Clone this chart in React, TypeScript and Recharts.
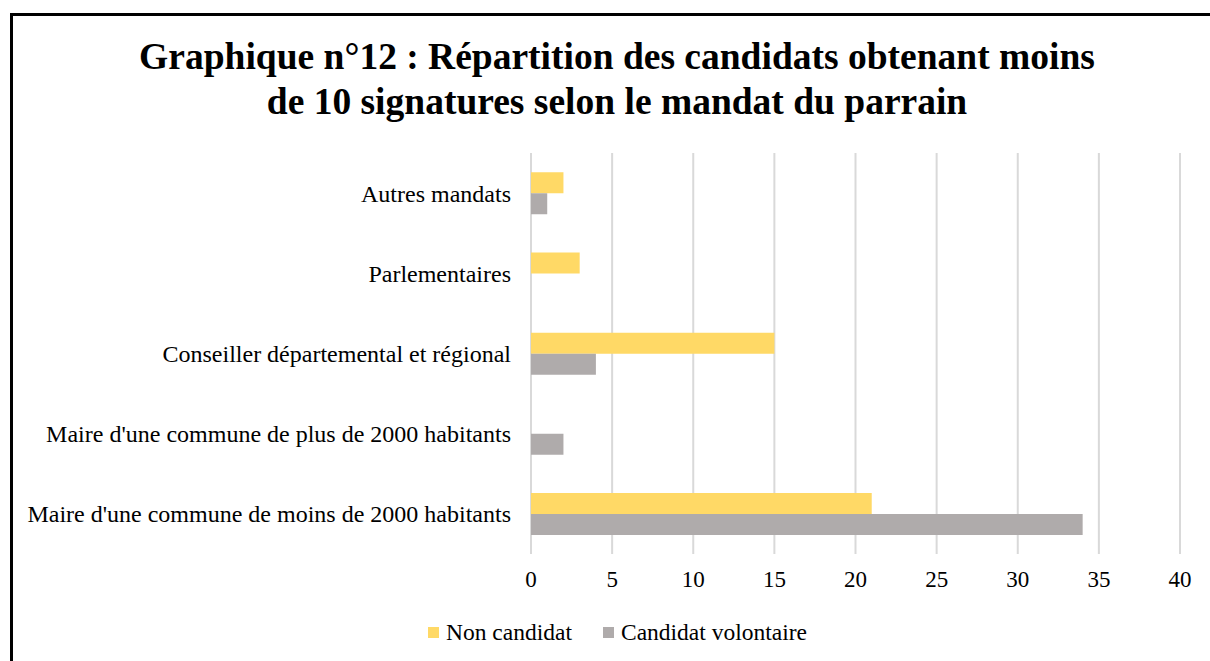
import { BarChart, Bar, XAxis, YAxis, CartesianGrid } from "recharts";

const categories = [
  "Autres mandats",
  "Parlementaires",
  "Conseiller départemental et régional",
  "Maire d'une commune de plus de 2000 habitants",
  "Maire d'une commune de moins de 2000 habitants",
];
const nonCandidat = [2, 3, 15, 0, 21];
const candidatVolontaire = [1, 0, 4, 2, 34];
const xTicks = [0, 5, 10, 15, 20, 25, 30, 35, 40];

const FONT = "'Liberation Serif', 'Times New Roman', serif";
const YELLOW = "#FFD966";
const GREY = "#AFABAB";

const series = [
  { key: "nonCandidat", name: "Non candidat", color: YELLOW },
  { key: "candidatVolontaire", name: "Candidat volontaire", color: GREY },
];

const data = categories.map((name, i) => ({
  name,
  nonCandidat: nonCandidat[i],
  candidatVolontaire: candidatVolontaire[i],
}));

export default function App() {
  return (
    <div style={{ position: "absolute", left: 0, top: 0, width: 1210, height: 661, background: "#fff", overflow: "hidden" }}>
      <div
        style={{
          position: "absolute",
          left: 10,
          top: 13,
          width: 1200,
          height: 648,
          borderLeft: "3px solid #000",
          borderTop: "3px solid #000",
          boxSizing: "border-box",
        }}
      />
      <div
        style={{
          position: "absolute",
          left: 0,
          top: 34,
          width: 1234,
          textAlign: "center",
          fontFamily: FONT,
          fontWeight: "bold",
          fontSize: 37.5,
          lineHeight: "45px",
          color: "#000",
        }}
      >
        Graphique n°12 : Répartition des candidats obtenant moins
        <br />
        de 10 signatures selon le mandat du parrain
      </div>
      <div style={{ position: "absolute", left: 0, top: 0 }}>
        <BarChart
          width={1210}
          height={661}
          data={data}
          layout="vertical"
          margin={{ top: 153, right: 30, bottom: 77, left: 0 }}
          barCategoryGap="24%"
          barGap={0}
        >
          <CartesianGrid horizontal={false} stroke="#D9D9D9" strokeWidth={2} />
          <XAxis
            type="number"
            domain={[0, 40]}
            ticks={xTicks}
            axisLine={false}
            tickLine={false}
            tickMargin={11}
            tick={{ fill: "#000", fontFamily: FONT, fontSize: 23 }}
          />
          <YAxis
            type="category"
            dataKey="name"
            width={531}
            axisLine={false}
            tickLine={false}
            tickMargin={14}
            interval={0}
            tick={{ fill: "#000", fontFamily: FONT, fontSize: 24 }}
          />
          {series.map((s) => (
            <Bar key={s.key} dataKey={s.key} name={s.name} fill={s.color} isAnimationActive={false} />
          ))}
        </BarChart>
      </div>
      <div
        style={{
          position: "absolute",
          left: 428,
          top: 617,
          display: "flex",
          alignItems: "center",
          fontFamily: FONT,
          fontSize: 23.5,
          lineHeight: "30px",
          color: "#000",
        }}
      >
        {series.map((s) => (
          <div key={s.key} style={{ display: "flex", alignItems: "center", marginRight: 31 }}>
            <span style={{ display: "inline-block", width: 11, height: 11, background: s.color, marginRight: 7 }} />
            <span>{s.name}</span>
          </div>
        ))}
      </div>
    </div>
  );
}
